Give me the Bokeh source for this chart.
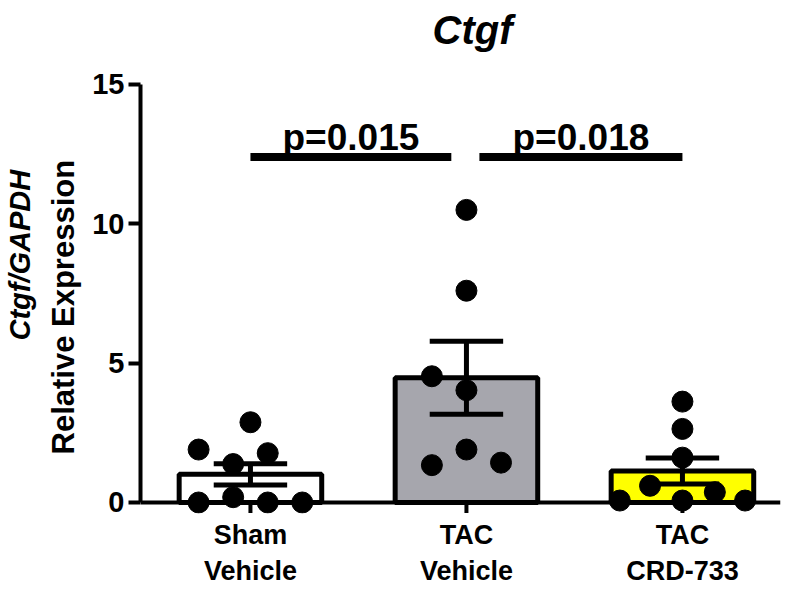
from bokeh.plotting import figure
from bokeh.models import ColumnDataSource, Span, Title, FixedTicker, Range1d
from bokeh.core.properties import value
from bokeh.embed import file_html
from bokeh.resources import INLINE

# ---------------- data ----------------
groups = ["Sham\nVehicle", "TAC\nVehicle", "TAC\nCRD-733"]
group_x = [0, 1, 2]
bar_colors = ["#FFFFFF", "#A6A6AD", "#FFFF00"]
means = [1.01, 4.48, 1.13]
sems = [0.38, 1.31, 0.47]

sham_vals = [1.90, 2.88, 1.77, 1.38, 0.19, 0.0, 0.0, 0.0]
sham_jit = [-0.24, 0.0, 0.08, -0.08, -0.08, -0.24, 0.08, 0.24]
tac_vals = [10.5, 7.6, 4.53, 4.03, 1.90, 1.34, 1.43]
tac_jit = [0.0, 0.0, -0.16, 0.0, 0.0, -0.16, 0.16]
crd_vals = [3.62, 2.64, 1.61, 0.60, 0.37, 0.07, 0.07, 0.07]
crd_jit = [0.0, 0.0, 0.0, -0.15, 0.15, -0.29, 0.0, 0.29]

sig_x0 = [0.0, 1.06]
sig_x1 = [0.93, 2.0]
sig_y = [12.4, 12.4]
sig_text = ["p=0.015", "p=0.018"]

y_ticks = [0, 5, 10, 15]
title_text = "Ctgf"
ylabel_1 = "Ctgf/GAPDH"
ylabel_2 = "Relative Expression"

FONT = "Liberation Sans"

# ---------------- figure ----------------
p = figure(width=787, height=589, output_backend="svg", toolbar_location=None,
           x_range=Range1d(-0.509, 2.454), y_range=Range1d(-0.395, 16.148),
           min_border_left=140, min_border_right=7, min_border_top=52,
           min_border_bottom=76)
p.outline_line_color = None
p.xgrid.grid_line_color = None
p.ygrid.grid_line_color = None
p.background_fill_color = "white"

# bars
bar_src = ColumnDataSource(dict(x=group_x, top=means, color=bar_colors))
p.vbar(x="x", top="top", bottom=0, width=0.66, source=bar_src,
       fill_color="color", line_color="black", line_width=5)

# error bars (mean +/- SEM)
lo = [m - s for m, s in zip(means, sems)]
hi = [m + s for m, s in zip(means, sems)]
p.segment(x0=group_x, y0=lo, x1=group_x, y1=hi, line_color="black", line_width=5)
cap_half = 0.17
p.segment(x0=[g - cap_half for g in group_x], y0=hi,
          x1=[g + cap_half for g in group_x], y1=hi, line_color="black", line_width=5)
p.segment(x0=[g - cap_half for g in group_x], y0=lo,
          x1=[g + cap_half for g in group_x], y1=lo, line_color="black", line_width=5)

# x axis line at y=0 and category ticks
p.add_layout(Span(location=0, dimension="width", line_color="black", line_width=4))
p.segment(x0=group_x, y0=[0] * 3, x1=group_x, y1=[-0.38] * 3,
          line_color="black", line_width=4)

# individual points
xs, ys = [], []
for g, vals, jit in zip(group_x, [sham_vals, tac_vals, crd_vals],
                        [sham_jit, tac_jit, crd_jit]):
    for v, j in zip(vals, jit):
        xs.append(g + j)
        ys.append(v)
p.scatter(x=xs, y=ys, size=21, marker="circle", fill_color="black", line_color="black")

# significance bars
p.segment(x0=sig_x0, y0=sig_y, x1=sig_x1, y1=sig_y, line_color="black", line_width=8)
p.text(x=[(a + b) / 2 for a, b in zip(sig_x0, sig_x1)], y=[y + 0.7 for y in sig_y],
       text=sig_text, text_font=value(FONT), text_font_size="37px",
       text_font_style="bold", text_align="center", text_baseline="alphabetic",
       text_color="black")

# y axis
ya = p.yaxis[0]
ya.ticker = FixedTicker(ticks=y_ticks)
ya.bounds = (0, 15)
ya.axis_line_width = 4
ya.axis_line_color = "black"
ya.major_tick_line_width = 4
ya.major_tick_out = 12
ya.major_tick_in = 0
ya.minor_tick_line_color = None
ya.major_label_text_font = FONT
ya.major_label_text_font_size = "29px"
ya.major_label_text_font_style = "bold"
ya.major_label_text_color = "black"
ya.major_label_standoff = 4

# x axis (labels only; line drawn at y=0)
xa = p.xaxis[0]
xa.ticker = FixedTicker(ticks=group_x)
xa.major_label_overrides = {g: lab for g, lab in zip(group_x, groups)}
xa.axis_line_color = None
xa.major_tick_line_color = None
xa.minor_tick_line_color = None
xa.major_label_text_font = FONT
xa.major_label_text_font_size = "27px"
xa.major_label_text_font_style = "bold"
xa.major_label_text_color = "black"
xa.major_label_standoff = 0

# y axis title, two lines with different styles
p.add_layout(Title(text=ylabel_2, align="left", offset=59, standoff=17,
                   vertical_align="bottom", text_font=FONT, text_font_size="31px",
                   text_font_style="bold", text_color="black"), "left")
p.add_layout(Title(text=ylabel_1, align="left", offset=173, standoff=0,
                   vertical_align="bottom", text_font=FONT, text_font_size="29px",
                   text_font_style="bold italic", text_color="black"), "left")

# chart title
p.title.text = title_text
p.title.align = "left"
p.title.offset = 292
p.title.standoff = 2
p.title.text_font = FONT
p.title.text_font_size = "40px"
p.title.text_font_style = "bold italic"
p.title.text_color = "black"

open("out.html", "w").write(file_html(p, INLINE))
